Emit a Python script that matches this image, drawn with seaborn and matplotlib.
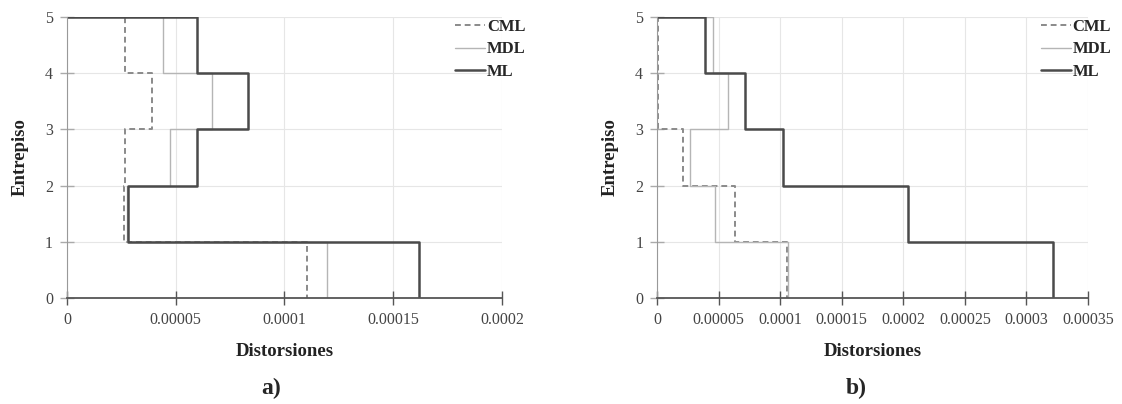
import numpy as np
import pandas as pd
import seaborn as sns
import matplotlib.pyplot as plt
from matplotlib.ticker import FuncFormatter

# story drifts, listed from the top story (5) down to story 1
stories = [5, 4, 3, 2, 1]
series_names = ['CML', 'MDL', 'ML']

cml_a = [0.0000268, 0.0000391, 0.0000268, 0.0000261, 0.0001105]
mdl_a = [0.0000443, 0.0000668, 0.0000474, 0.0000275, 0.0001197]
ml_a = [0.0000597, 0.0000831, 0.0000600, 0.0000282, 0.0001620]

cml_b = [0.0000005, 0.0000010, 0.0000208, 0.0000630, 0.0001055]
mdl_b = [0.0000455, 0.0000573, 0.0000265, 0.0000473, 0.0001060]
ml_b = [0.0000386, 0.0000717, 0.0001023, 0.0002042, 0.0003214]

xticks_a = [0, 0.00005, 0.0001, 0.00015, 0.0002]
xticks_b = [0, 0.00005, 0.0001, 0.00015, 0.0002, 0.00025, 0.0003, 0.00035]
yticks = [0, 1, 2, 3, 4, 5]
panel_labels = ['a)', 'b)']

styles = {
    'CML': dict(color='#8a8a8a', lw=1.4, ls=(0, (3, 2))),
    'MDL': dict(color='#b5b5b5', lw=1.0, ls='-'),
    'ML': dict(color='#4a4a4a', lw=1.8, ls='-'),
}


def step_frame(values, name):
    # profile: starts at (0, top), steps down through each story to y=0
    xs, ys = [0.0], [stories[0]]
    for s, v in zip(stories, values):
        xs += [v, v]
        ys += [s, s - 1]
    return pd.DataFrame({'x': xs, 'y': ys, 'serie': name})


sns.set_style('whitegrid')
plt.rcParams['font.family'] = ['Liberation Serif', 'DejaVu Serif']
plt.rcParams['axes.unicode_minus'] = False

fig = plt.figure(figsize=(11.22, 4.04), dpi=100)
ax_a = fig.add_axes([0.0597, 0.2624, 0.3877, 0.6955])
ax_b = fig.add_axes([0.5856, 0.2624, 0.3841, 0.6955])

fmt = FuncFormatter(lambda v, p: '0' if v == 0 else np.format_float_positional(v, trim='-'))

panels = [
    (ax_a, [cml_a, mdl_a, ml_a], xticks_a),
    (ax_b, [cml_b, mdl_b, ml_b], xticks_b),
]

for ax, data, xt in panels:
    for vals, name in zip(data, series_names):
        df = step_frame(vals, name)
        st = styles[name]
        sns.lineplot(data=df, x='x', y='y', sort=False, estimator=None, ax=ax,
                     color=st['color'], linewidth=st['lw'], linestyle=st['ls'], label=name)
    ax.set_xlim(xt[0], xt[-1])
    ax.set_ylim(0, 5)
    ax.set_xticks(xt)
    ax.set_yticks(yticks)
    ax.xaxis.set_major_formatter(fmt)
    ax.grid(True, color='#e6e6e6', linewidth=0.8)
    for side in ['top', 'right']:
        ax.spines[side].set_visible(False)
    ax.spines['left'].set_color('#999999')
    ax.spines['bottom'].set_color('#555555')
    ax.spines['bottom'].set_linewidth(1.3)
    ax.tick_params(axis='both', direction='inout', length=10, width=1.0, color='#555555',
                   labelsize=11.5, labelcolor='#444444', pad=5)
    ax.tick_params(axis='x', bottom=True)
    ax.tick_params(axis='y', left=True, color='#aaaaaa')
    ax.set_xlabel('Distorsiones', fontsize=13.5, fontweight='bold', labelpad=11, color='#222222')
    ax.set_ylabel('Entrepiso', fontsize=13.5, fontweight='bold', labelpad=12, color='#222222')
    ax.legend(loc='upper right', bbox_to_anchor=(1.089, 1.047), frameon=False,
              handlelength=1.8, handletextpad=0.1, labelspacing=0.4,
              prop={'weight': 'bold', 'size': 12})

fig.text(271 / 1122, 1 - 388 / 404, panel_labels[0], ha='center', va='center',
         fontsize=17, fontweight='bold')
fig.text(856 / 1122, 1 - 388 / 404, panel_labels[1], ha='center', va='center',
         fontsize=17, fontweight='bold')

fig.savefig('out.png', dpi=100)
